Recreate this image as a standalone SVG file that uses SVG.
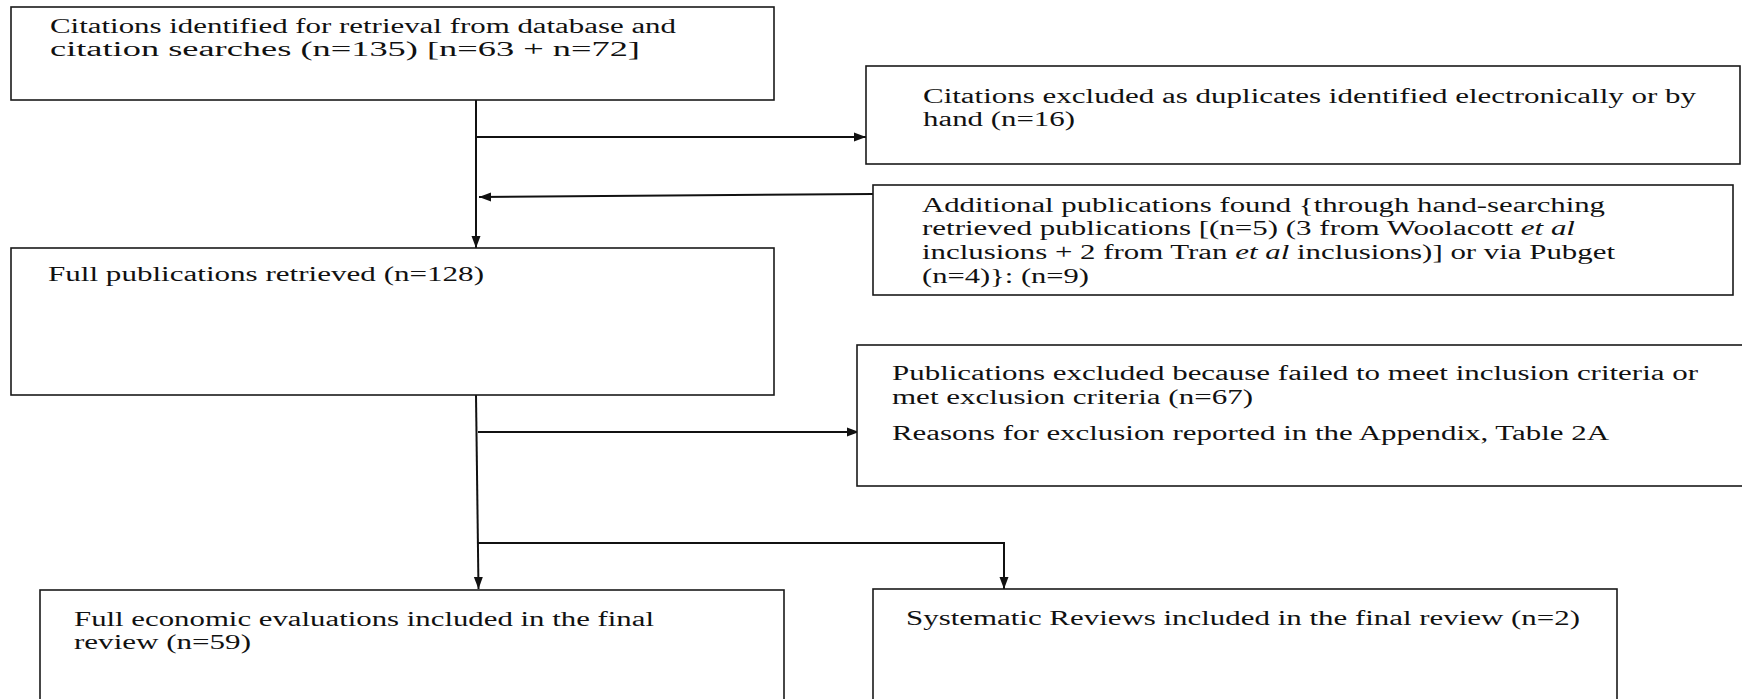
<svg xmlns="http://www.w3.org/2000/svg" width="1742" height="699" viewBox="0 0 1742 699">
  <style>
    .box { fill: #ffffff; stroke: #1a1a1a; stroke-width: 1.6; }
    .lbl { font-family: "Liberation Serif", "Times New Roman", serif; font-size: 20.5px; fill: #111111; }
    .it { font-style: italic; }
    .wire { fill: none; stroke: #111111; stroke-width: 2; }
  </style>
  <defs>
    <marker id="tip" markerUnits="userSpaceOnUse" markerWidth="14" markerHeight="12" refX="12" refY="6" orient="auto">
      <path d="M0,1.5 L12,6 L0,10.5 Z" fill="#111111"/>
    </marker>
  </defs>
  <rect width="1742" height="699" fill="#ffffff"/>

  <g id="connectors">
    <line class="wire" x1="476" y1="100" x2="476" y2="248" marker-end="url(#tip)"/>
    <line class="wire" x1="476" y1="137" x2="866" y2="137" marker-end="url(#tip)"/>
    <line class="wire" x1="873" y1="194" x2="479" y2="197" marker-end="url(#tip)"/>
    <line class="wire" x1="476" y1="395" x2="478.5" y2="589" marker-end="url(#tip)"/>
    <line class="wire" x1="478" y1="432" x2="859" y2="432" marker-end="url(#tip)"/>
    <polyline class="wire" points="478,543 1004,543 1004,589" marker-end="url(#tip)"/>
  </g>

  <g id="identified">
    <rect class="box" x="11" y="7" width="763" height="93"/>
    <text class="lbl" x="50" y="33" textLength="626" lengthAdjust="spacingAndGlyphs">Citations identified for retrieval from database and</text>
    <text class="lbl" x="50" y="56" textLength="590" lengthAdjust="spacingAndGlyphs">citation searches (n=135) [n=63 + n=72]</text>
  </g>

  <g id="duplicates">
    <rect class="box" x="866" y="66" width="874" height="98"/>
    <text class="lbl" x="923" y="103" textLength="773" lengthAdjust="spacingAndGlyphs">Citations excluded as duplicates identified electronically or by</text>
    <text class="lbl" x="923" y="126" textLength="152" lengthAdjust="spacingAndGlyphs">hand (n=16)</text>
  </g>

  <g id="additional">
    <rect class="box" x="873" y="185" width="860" height="110"/>
    <text class="lbl" x="922" y="212" textLength="683" lengthAdjust="spacingAndGlyphs">Additional publications found {through hand-searching</text>
    <text class="lbl" x="922" y="235" textLength="653" lengthAdjust="spacingAndGlyphs">retrieved publications [(n=5) (3 from Woolacott <tspan class="it">et al</tspan></text>
    <text class="lbl" x="922" y="259" textLength="693" lengthAdjust="spacingAndGlyphs">inclusions + 2 from Tran <tspan class="it">et al</tspan> inclusions)] or via Pubget</text>
    <text class="lbl" x="922" y="283" textLength="167" lengthAdjust="spacingAndGlyphs">(n=4)}: (n=9)</text>
  </g>

  <g id="retrieved">
    <rect class="box" x="11" y="248" width="763" height="147"/>
    <text class="lbl" x="48" y="281" textLength="436" lengthAdjust="spacingAndGlyphs">Full publications retrieved (n=128)</text>
  </g>

  <g id="excluded">
    <rect class="box" x="857" y="345" width="900" height="141"/>
    <text class="lbl" x="892" y="380" textLength="806" lengthAdjust="spacingAndGlyphs">Publications excluded because failed to meet inclusion criteria or</text>
    <text class="lbl" x="892" y="404" textLength="361" lengthAdjust="spacingAndGlyphs">met exclusion criteria (n=67)</text>
    <text class="lbl" x="892" y="440" textLength="717" lengthAdjust="spacingAndGlyphs">Reasons for exclusion reported in the Appendix, Table 2A</text>
  </g>

  <g id="economic">
    <rect class="box" x="40" y="590" width="744" height="130"/>
    <text class="lbl" x="74" y="626" textLength="580" lengthAdjust="spacingAndGlyphs">Full economic evaluations included in the final</text>
    <text class="lbl" x="74" y="649" textLength="177" lengthAdjust="spacingAndGlyphs">review (n=59)</text>
  </g>

  <g id="reviews">
    <rect class="box" x="873" y="589" width="744" height="130"/>
    <text class="lbl" x="906" y="625" textLength="674" lengthAdjust="spacingAndGlyphs">Systematic Reviews included in the final review (n=2)</text>
  </g>
</svg>
